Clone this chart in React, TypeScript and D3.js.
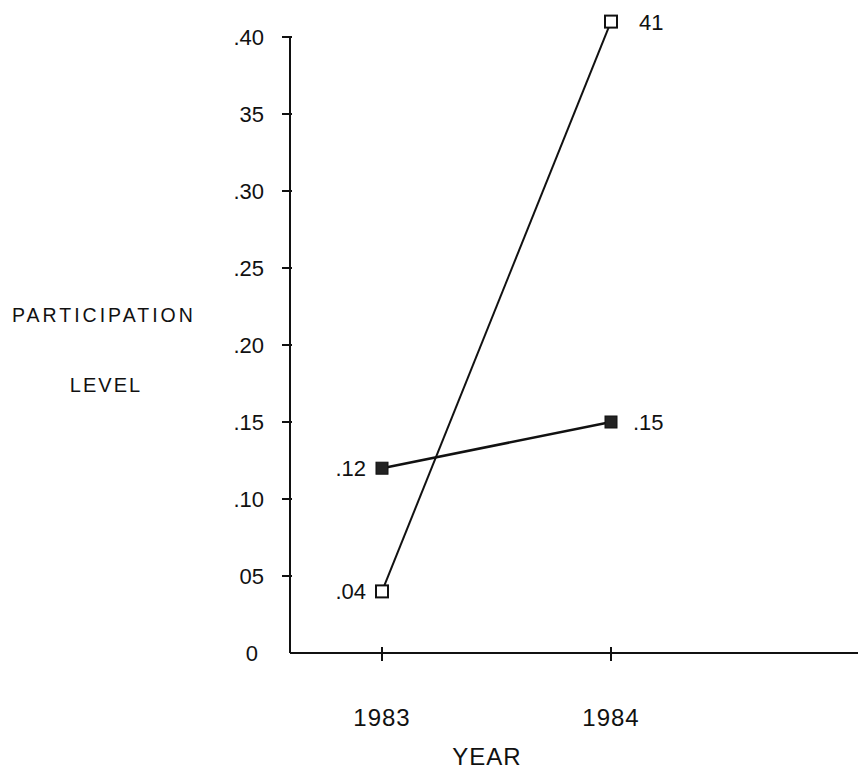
import React from "react";
import * as d3 from "d3";

const years = [1983, 1984];
const openSeries = [0.04, 0.41];
const filledSeries = [0.12, 0.15];
const openLabels = [".04", "41"];
const filledLabels = [".12", ".15"];
const yTickValues = [0, 0.05, 0.1, 0.15, 0.2, 0.25, 0.3, 0.35, 0.4];
const yTickLabels = ["0", "05", ".10", ".15", ".20", ".25", ".30", "35", ".40"];
const yearLabels = ["1983", "1984"];

const W = 858;
const H = 770;
const FONT = "'Liberation Sans', Arial, sans-serif";

export default function App() {
  const x = d3.scaleLinear().domain([1983, 1984]).range([382, 611]);
  const y = d3.scaleLinear().domain([0, 0.4]).range([653, 37]);
  const axisX = 290;
  const axisY = y(0);

  const line = d3
    .line<[number, number]>()
    .x((d) => x(d[0]))
    .y((d) => y(d[1]));

  const openPts = years.map((yr, i) => [yr, openSeries[i]] as [number, number]);
  const filledPts = years.map((yr, i) => [yr, filledSeries[i]] as [number, number]);

  return (
    <svg
      width={W}
      height={H}
      style={{ position: "absolute", left: 0, top: 0, background: "#fff" }}
      fontFamily={FONT}
    >
      <rect width={W} height={H} fill="#fff" />
      {/* y axis */}
      <line x1={axisX} x2={axisX} y1={y(0.4)} y2={axisY} stroke="#111" strokeWidth={2} />
      {yTickValues.map((v, i) => (
        <g key={"yt" + i}>
          {v > 0 && (
            <line x1={axisX - 8} x2={axisX + 2} y1={y(v)} y2={y(v)} stroke="#111" strokeWidth={2} />
          )}
          <text
            x={v === 0 ? 258 : 264}
            y={y(v)}
            dy="0.36em"
            textAnchor="end"
            fontSize={22}
            fill="#111"
          >
            {yTickLabels[i]}
          </text>
        </g>
      ))}
      {/* x axis */}
      <line x1={axisX} x2={W} y1={axisY} y2={axisY} stroke="#111" strokeWidth={2} />
      {years.map((yr, i) => (
        <g key={"xt" + i}>
          <line x1={x(yr)} x2={x(yr)} y1={axisY - 6} y2={axisY + 8} stroke="#111" strokeWidth={2} />
          <text x={x(yr)} y={726} textAnchor="middle" fontSize={24} letterSpacing={1} fill="#111">
            {yearLabels[i]}
          </text>
        </g>
      ))}
      {/* axis titles */}
      <text x={12} y={322} fontSize={19.5} letterSpacing={3} fill="#111">
        PARTICIPATION
      </text>
      <text x={106} y={392} textAnchor="middle" fontSize={20} letterSpacing={2} fill="#111">
        LEVEL
      </text>
      <text x={487} y={765} textAnchor="middle" fontSize={24} letterSpacing={1} fill="#111">
        YEAR
      </text>
      {/* series lines */}
      <path d={line(openPts) || ""} fill="none" stroke="#111" strokeWidth={2} />
      <path d={line(filledPts) || ""} fill="none" stroke="#111" strokeWidth={2.5} />
      {/* markers */}
      {openPts.map((p, i) => (
        <rect
          key={"om" + i}
          x={x(p[0]) - 6}
          y={y(p[1]) - 6}
          width={12}
          height={12}
          fill="#fff"
          stroke="#111"
          strokeWidth={2}
        />
      ))}
      {filledPts.map((p, i) => (
        <rect
          key={"fm" + i}
          x={x(p[0]) - 6}
          y={y(p[1]) - 6}
          width={12}
          height={12}
          fill="#222"
          stroke="#111"
          strokeWidth={1}
        />
      ))}
      {/* data labels */}
      <text x={x(1983) - 16} y={y(0.04)} dy="0.36em" textAnchor="end" fontSize={22} fill="#111">
        {openLabels[0]}
      </text>
      <text x={x(1984) + 28} y={y(0.41)} dy="0.36em" textAnchor="start" fontSize={22} fill="#111">
        {openLabels[1]}
      </text>
      <text x={x(1983) - 16} y={y(0.12)} dy="0.36em" textAnchor="end" fontSize={22} fill="#111">
        {filledLabels[0]}
      </text>
      <text x={x(1984) + 22} y={y(0.15)} dy="0.36em" textAnchor="start" fontSize={22} fill="#111">
        {filledLabels[1]}
      </text>
    </svg>
  );
}
